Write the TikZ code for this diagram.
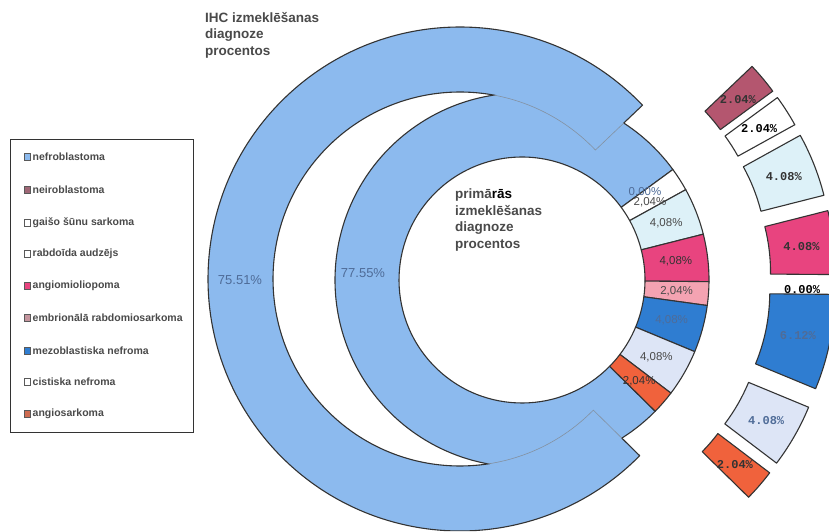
\documentclass[tikz,border=0pt]{standalone}
\usepackage{fontspec}
\setmainfont{Liberation Sans}
\setmonofont{Liberation Mono}
\usetikzlibrary{calc}
\definecolor{cNefro}{HTML}{8CBAEE}
\definecolor{cNeiro}{HTML}{B4566F}
\definecolor{cGaiso}{HTML}{FFFFFF}
\definecolor{cRabdo}{HTML}{DDF1F8}
\definecolor{cAngio}{HTML}{E8447F}
\definecolor{cEmbr}{HTML}{F4A3B2}
\definecolor{cMezo}{HTML}{2F7DD1}
\definecolor{cCist}{HTML}{DDE5F6}
\definecolor{cAngios}{HTML}{F0623C}
\definecolor{cEdge}{HTML}{333333}
\definecolor{cTxt}{HTML}{4A4A4A}
\definecolor{cBlueTxt}{HTML}{4F6C98}
\newcommand{\ringslice}[7]{%
  \path[#7] (#1,#2) ++(#3:#6) arc[start angle=#3,end angle=#4,radius=#6]
    -- ($(#1,#2)+(#4:#5)$) arc[start angle=#4,end angle=#3,radius=#5] -- cycle;}
\newcommand{\outslice}[3]{%
  \pgfmathsetmacro\bis{(#1+#2)/2}%
  \pgfmathsetmacro\ocx{522+62*cos(\bis)}%
  \pgfmathsetmacro\ocy{251+62*sin(\bis)}%
  \ringslice{\ocx}{\ocy}{#1}{#2}{187}{252}{#3}}
\newcommand{\olabel}[5]{%
  \pgfmathsetmacro\bis{(#2+#3)/2}%
  \node[olab,text=#5] (#1) at ($(522,251)+(\bis:281.5)$) {#4};}
\newcommand{\ilabel}[5]{%
  \pgfmathsetmacro\bis{(#2+#3)/2}%
  \node[ilab,text=#5] (#1) at ($(522,251)+(\bis:155)$) {#4};}
\tikzset{
  slicestyle/.style={draw=cEdge,line width=1.1pt,line join=round},
  olab/.style={font=\ttfamily\bfseries\fontsize{12}{14}\selectfont,inner sep=0pt},
  ilab/.style={font=\fontsize{11.5}{13}\selectfont,inner sep=0pt},
  biglab/.style={font=\fontsize{13}{15}\selectfont,inner sep=0pt,text=cBlueTxt},
  titletext/.style={font=\bfseries\fontsize{13.5}{16.5}\selectfont,text=cTxt,align=left,inner sep=0pt},
  legmark/.style={draw=gray!70!black,line width=0.6pt,minimum size=6.5pt,inner sep=0pt},
  legtext/.style={font=\bfseries\fontsize{10.5}{12}\selectfont,text=cTxt,inner sep=0pt,anchor=west}
}
\begin{document}
\begin{tikzpicture}[x=1pt,y=1pt]
\useasboundingbox (0,0) rectangle (829,531);
\fill[white] (0,0) rectangle (829,531);
\begin{scope}
\clip (0,0) rectangle (829,531);
% inner ring (primaras izmeklesanas)
\ringslice{522}{251}{36.22}{315.44}{123}{187}{fill=cNefro,slicestyle}
\ringslice{522}{251}{28.88}{36.22}{123}{187}{fill=cGaiso,slicestyle}
\ringslice{522}{251}{14.19}{28.88}{123}{187}{fill=cRabdo,slicestyle}
\ringslice{522}{251}{-0.50}{14.19}{123}{187}{fill=cAngio,slicestyle}
\ringslice{522}{251}{-7.84}{-0.50}{123}{187}{fill=cEmbr,slicestyle}
\ringslice{522}{251}{-22.53}{-7.84}{123}{187}{fill=cMezo,slicestyle}
\ringslice{522}{251}{-37.22}{-22.53}{123}{187}{fill=cCist,slicestyle}
\ringslice{522}{251}{-44.56}{-37.22}{123}{187}{fill=cAngios,slicestyle}
% outer big slice (IHC), exploded to the left
\ringslice{460}{252}{43.6}{315.48}{187}{252}{fill=cNefro}
\begin{scope}[even odd rule]
\clip (0,0) rectangle (829,531) (522,251) circle[radius=187];
\ringslice{460}{252}{43.6}{315.48}{187}{252}{slicestyle}
\end{scope}
\begin{scope}
\clip (522,251) circle[radius=187];
\ringslice{460}{252}{43.6}{315.48}{187}{252}{draw=gray,line width=0.6pt,opacity=0.7}
\end{scope}
% outer small slices, exploded
\outslice{36.26}{43.6}{fill=cNeiro,slicestyle}
\outslice{28.92}{36.26}{fill=cGaiso,slicestyle}
\outslice{14.23}{28.92}{fill=cRabdo,slicestyle}
\outslice{-0.46}{14.23}{fill=cAngio,slicestyle}
\outslice{-22.49}{-0.46}{fill=cMezo,slicestyle}
\outslice{-37.18}{-22.49}{fill=cCist,slicestyle}
\outslice{-44.52}{-37.18}{fill=cAngios,slicestyle}
\end{scope}
% outer labels
\olabel{oNeiro}{36.26}{43.6}{2.04\%}{cEdge}
\olabel{oGaiso}{28.92}{36.26}{2.04\%}{black}
\olabel{oRabdo}{14.23}{28.92}{4.08\%}{cEdge}
\olabel{oAngio}{-0.46}{14.23}{4.08\%}{cEdge}
\node[olab,text=black] (oEmbr) at (802,241) {0.00\%};
\olabel{oMezo}{-22.49}{-0.46}{6.12\%}{cBlueTxt}
\olabel{oCist}{-37.18}{-22.49}{4.08\%}{cBlueTxt}
\olabel{oAngios}{-44.52}{-37.18}{2.04\%}{cEdge}
% inner labels
\node[ilab,text=cBlueTxt] (iNeiro) at (645,339) {0,00\%};
\node[ilab,text=cTxt] (iGaiso) at (650,329) {2,04\%};
\ilabel{iRabdo}{14.19}{28.88}{4,08\%}{cTxt}
\ilabel{iAngio}{-0.50}{14.19}{4,08\%}{cEdge}
\ilabel{iEmbr}{-7.84}{-0.50}{2,04\%}{cTxt}
\ilabel{iMezo}{-22.53}{-7.84}{4,08\%}{cBlueTxt}
\ilabel{iCist}{-37.22}{-22.53}{4,08\%}{cTxt}
\ilabel{iAngios}{-44.56}{-37.22}{2,04\%}{cEdge}
% big labels
\node[biglab] (oNefro) at (240,251) {75.51\%};
\node[biglab] (iNefro) at (363,258) {77.55\%};
% titles
\node[titletext,anchor=north west] (tIHC) at (205,519) {IHC izmeklēšanas\\diagnoze\\procentos};
\node[titletext,anchor=north west] (tPrim) at (455,342) {primā\textcolor{black}{rās}\\izmeklēšanas\\diagnoze\\procentos};
% legend
\node[draw=cEdge,line width=0.9pt,minimum width=183pt,minimum height=293pt,inner sep=0pt,anchor=south west] (legbox) at (10,98) {};
\foreach \yy/\cc/\tt [count=\i] in {374/cNefro/nefroblastoma,341/cNeiro!60!gray/neiroblastoma,308/white/gaišo šūnu sarkoma,277/white/rabdoīda audzējs,245/cAngio/angiomioliopoma,213/cEmbr!60!gray/embrionālā rabdomiosarkoma,180/cMezo/mezoblastiska nefroma,149/white/cistiska nefroma,117/cAngios!70!gray/angiosarkoma}{
  \node[legmark,fill=\cc] (m\i) at (27.5,\yy) {};
  \node[legtext] (t\i) at (32.5,\yy) {\tt};
}
\end{tikzpicture}
\end{document}
